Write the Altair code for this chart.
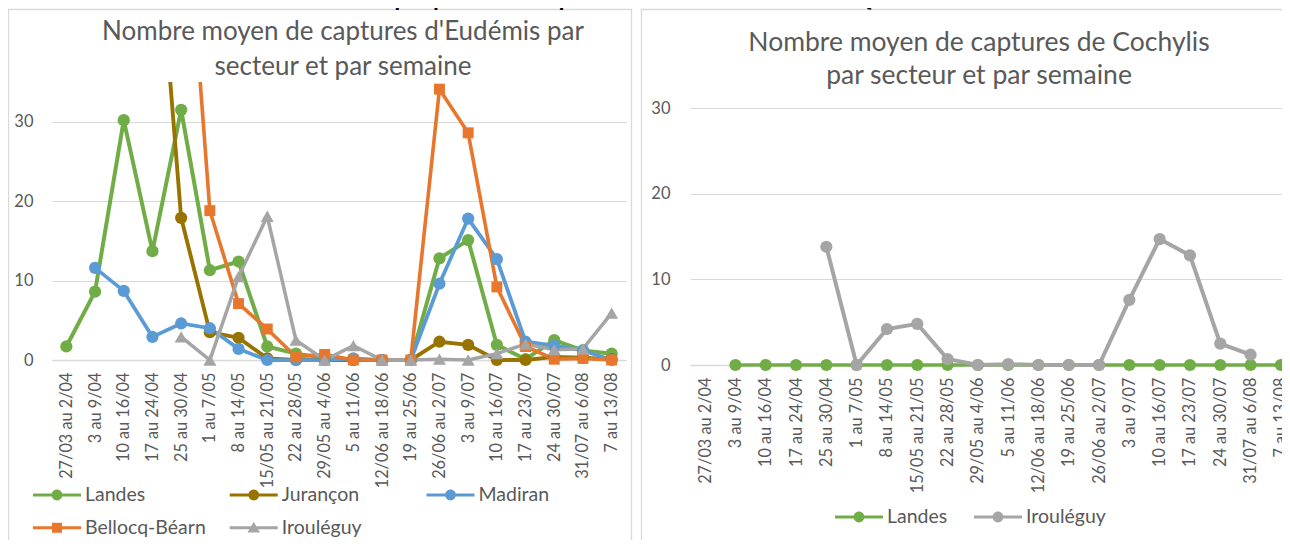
import altair as alt
import pandas as pd

# ---------------- data ----------------
weeks = ["27/03 au 2/04", "3 au 9/04", "10 au 16/04", "17 au 24/04", "25 au 30/04",
         "1 au 7/05", "8 au 14/05", "15/05 au 21/05", "22 au 28/05", "29/05 au 4/06",
         "5 au 11/06", "12/06 au 18/06", "19 au 25/06", "26/06 au 2/07", "3 au 9/07",
         "10 au 16/07", "17 au 23/07", "24 au 30/07", "31/07 au 6/08", "7 au 13/08"]

eud_series = ["Landes", "Jurançon", "Madiran", "Bellocq-Béarn", "Irouléguy"]
eud_landes = [1.7, 8.6, 30.2, 13.7, 31.5, 11.3, 12.4, 1.7, 0.8, 0.3, 0, 0, 0, 12.8, 15.1, 1.9, 0.1, 2.5, 1.2, 0.8]
eud_jurancon = [None, None, None, 63, 17.9, 3.5, 2.8, 0.2, 0, 0, 0, 0, 0, 2.3, 1.9, 0, 0, 0.4, 0.3, 0.1]
eud_madiran = [None, 11.6, 8.7, 2.9, 4.6, 4.0, 1.4, 0, 0, 0, 0.2, 0, 0, 9.6, 17.8, 12.7, 2.3, 1.8, 1.2, 0]
eud_bellocq = [None, None, None, None, 67, 18.8, 7.1, 3.9, 0.4, 0.7, 0, 0, 0, 34.1, 28.6, 9.2, 1.7, 0.1, 0.2, 0]
eud_irouleguy = [None, None, None, None, 2.9, 0, 10.5, 18.1, 2.5, 0, 1.8, 0, 0, 0.1, 0, 0.8, 2.0, 1.3, 1.4, 5.9]

coc_series = ["Landes", "Irouléguy"]
coc_landes = [None, 0, 0, 0, 0, 0, 0, 0, 0, 0, 0, 0, 0, 0, 0, 0, 0, 0, 0, 0]
coc_irouleguy = [None, None, None, None, 13.8, 0, 4.2, 4.8, 0.7, 0, 0.1, 0, 0, 0, 7.6, 14.7, 12.8, 2.5, 1.2, None]

# legend layout (column / row of each entry)
eud_leg_col = [0, 1, 2, 0, 1]
eud_leg_row = [0, 0, 0, 1, 1]
coc_leg_col = [0, 1]
coc_leg_row = [0, 0]

y_ticks = [0, 10, 20, 30]
title_eud = ["Nombre moyen de captures d'Eudémis par", "secteur et par semaine"]
title_coc = ["Nombre moyen de captures de Cochylis", "par secteur et par semaine"]
header = ["Graphiques réalisés par A. KEREBEL – FREDON AQUITAINE"]

# ---------------- styles ----------------
eud_colors = ["#70AD47", "#997300", "#5B9BD5", "#E8772E", "#A5A5A5"]
eud_widths = [4, 3.5, 4, 2.75, 3]
coc_colors = ["#70AD47", "#A5A5A5"]
coc_widths = [3.5, 4]

LINE = "M-2,-0.13L2,-0.13L2,0.13L-2,0.13Z"
CIRC = "M0.45,0A0.45,0.45 0 1,1 -0.45,0A0.45,0.45 0 1,1 0.45,0Z"
SQR = "M-0.42,-0.42L0.42,-0.42L0.42,0.42L-0.42,0.42Z"
TRI = "M0,-0.5L0.52,0.4L-0.52,0.4Z"
eud_legend_shapes = [LINE + CIRC, LINE + CIRC, LINE + CIRC, LINE + SQR, LINE + TRI]
coc_legend_shapes = [LINE + CIRC, LINE + CIRC]

FONT = "Lato"
GREY_TXT = "#595959"
GRID = "#D9D9D9"


def long_df(names, arrays):
    rows = []
    for name, arr in zip(names, arrays):
        for w, v in zip(weeks, arr):
            if v is not None:
                rows.append({"week": w, "series": name, "value": v})
    return pd.DataFrame(rows)


eud_df = long_df(eud_series, [eud_landes, eud_jurancon, eud_madiran, eud_bellocq, eud_irouleguy])
coc_df = long_df(coc_series, [coc_landes, coc_irouleguy])


def x_axis(offset):
    return alt.Axis(title=None, orient="bottom", offset=offset, labelAngle=270, labelFont=FONT,
                    labelFontSize=16.3, labelColor=GREY_TXT, labelPadding=12, ticks=False,
                    domainColor=GRID, domainWidth=1.3, grid=False, labelOverlap=False,
                    labelBound=False)


def y_axis(offset, pad):
    return alt.Axis(title=None, orient="left", offset=offset, values=y_ticks, labelFont=FONT,
                    labelFontSize=16.5, labelColor=GREY_TXT, labelPadding=pad, ticks=False,
                    domain=False, grid=True, gridColor=GRID, gridWidth=1)


def panel(df, names, colors, widths, x_enc, y_enc, clip, circles, squares, triangles, size_c):
    base = alt.Chart(df)
    color = alt.Color("series:N", scale=alt.Scale(domain=names, range=colors), legend=None)
    lines = base.mark_line(clip=clip).encode(
        x=x_enc, y=y_enc, color=color,
        strokeWidth=alt.StrokeWidth("series:N", scale=alt.Scale(domain=names, range=widths),
                                    legend=None),
    )
    layers = [lines]
    if circles:
        layers.append(base.transform_filter(alt.FieldOneOfPredicate(field="series", oneOf=circles))
                      .mark_point(shape="circle", filled=True, opacity=1, size=size_c, strokeWidth=0)
                      .encode(x=x_enc, y=y_enc, color=color))
    if squares:
        layers.append(base.transform_filter(alt.FieldOneOfPredicate(field="series", oneOf=squares))
                      .mark_point(shape="square", filled=True, opacity=1, size=120, strokeWidth=0)
                      .encode(x=x_enc, y=y_enc, color=color))
    if triangles:
        layers.append(base.transform_filter(alt.FieldOneOfPredicate(field="series", oneOf=triangles))
                      .mark_point(shape="triangle-up", filled=True, opacity=1, size=170, strokeWidth=0)
                      .encode(x=x_enc, y=y_enc, color=color))
    return alt.layer(*layers)


def legend_layer(names, colors, shapes, cols, rows, xrange, yrange, dx):
    df = pd.DataFrame({"series": names, "col": cols, "row": rows})
    base = alt.Chart(df).encode(
        x=alt.X("col:O", scale=alt.Scale(type="point", domain=sorted(set(cols)), range=xrange,
                                         padding=0), axis=None),
        y=alt.Y("row:O", scale=alt.Scale(type="point", domain=sorted(set(rows)), range=yrange,
                                         padding=0), axis=None),
    )
    sym = base.mark_point(filled=True, opacity=1, size=576, strokeWidth=0).encode(
        fill=alt.Fill("series:N", scale=alt.Scale(domain=names, range=colors), legend=None),
        shape=alt.Shape("series:N", scale=alt.Scale(domain=names, range=shapes), legend=None),
    )
    txt = base.mark_text(align="left", baseline="middle", dx=dx, font=FONT, fontSize=19.5,
                         color=GREY_TXT).encode(text="series:N")
    return alt.layer(sym, txt)


# left panel (Eudémis): its plot origin is the root origin
x_left = alt.X("week:N", scale=alt.Scale(type="point", domain=weeks, padding=0.5), axis=x_axis(-12))
y_left = alt.Y("value:Q", scale=alt.Scale(domain=[0, 35], range=[278, 0], nice=False),
               axis=y_axis(0, 19))
left = panel(eud_df, eud_series, eud_colors, eud_widths, x_left, y_left, True,
             ["Landes", "Jurançon", "Madiran"], ["Bellocq-Béarn"], ["Irouléguy"], 150)

# right panel (Cochylis)
x_right = alt.X("week:N", scale=alt.Scale(type="point", domain=weeks, padding=0.5, range=[638, 1244]),
                axis=x_axis(-7))
y_right = alt.Y("value:Q", scale=alt.Scale(domain=[0, 30], range=[283, 26], nice=False),
                axis=y_axis(-638, 20))
right = panel(coc_df, coc_series, coc_colors, coc_widths, x_right, y_right, False,
              ["Landes", "Irouléguy"], [], [], 150)

left_legend = legend_layer(eud_series, eud_colors, eud_legend_shapes, eud_leg_col, eud_leg_row,
                           [5, 398.5], [413, 445.7], 28)
right_legend = legend_layer(coc_series, coc_colors, coc_legend_shapes, coc_leg_col, coc_leg_row,
                            [807, 946], [435, 435], 28)


def text_mark(txt, x, y, size, color, weight="normal", style="normal", baseline="middle"):
    return alt.Chart(pd.DataFrame({"t": [txt]})).mark_text(
        font=FONT, fontSize=size, color=color, align="center", baseline=baseline,
        fontWeight=weight, fontStyle=style).encode(x=alt.value(x), y=alt.value(y), text="t:N")


def frame(x1, x2, y1, y2):
    return alt.Chart(pd.DataFrame({"f": [0]})).mark_rect(
        fillOpacity=0, stroke=GRID, strokeWidth=1.3).encode(
        x=alt.value(x1), x2=alt.value(x2), y=alt.value(y1), y2=alt.value(y2))


chart = alt.layer(
    frame(-43.5, 579.5, -72.5, 520),
    frame(589.5, 1400, -72.5, 520),
    left,
    right,
    left_legend,
    right_legend,
    text_mark(title_eud[0], 291, -50, 26, GREY_TXT),
    text_mark(title_eud[1], 291, -15, 26, GREY_TXT),
    text_mark(title_coc[0], 927, -39, 26.5, GREY_TXT),
    text_mark(title_coc[1], 927, -6, 26.5, GREY_TXT),
    text_mark(header[0], 608, -76, 24, "#000000", weight="bold", style="italic", baseline="alphabetic"),
).resolve_scale(
    x="independent", y="independent", color="independent", fill="independent",
    shape="independent", strokeWidth="independent",
).properties(
    width=574, height=290,
    autosize=alt.AutoSizeParams(type="none"),
    padding={"left": 44, "top": 74, "right": 656, "bottom": 168},
).configure(font=FONT).configure_view(strokeWidth=0)

chart.save("out.html", embed_options={"renderer": "svg", "actions": False})
